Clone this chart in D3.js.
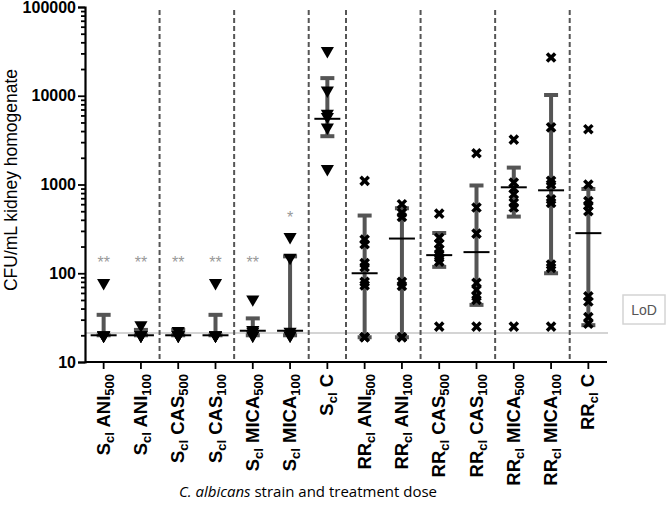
<!DOCTYPE html>
<html>
<head>
<meta charset="utf-8">
<script src="https://cdn.jsdelivr.net/npm/d3@7"></script>
<style>
  body { margin: 0; background: #fff; }
  svg { display: block; }
</style>
</head>
<body>
<div id="wrapper"></div>
<script>
const w = 666
const h = 505

// one entry per category, left to right
const strains = ["S", "S", "S", "S", "S", "S", "S", "RR", "RR", "RR", "RR", "RR", "RR", "RR"]
const drugs = ["ANI", "ANI", "CAS", "CAS", "MICA", "MICA", "C", "ANI", "ANI", "CAS", "CAS", "MICA", "MICA", "C"]
const doses = ["500", "100", "500", "100", "500", "100", "", "500", "100", "500", "100", "500", "100", ""]

// median and error bar ends (CFU/mL)
const medians = [20, 20, 20, 20, 22.5, 22.5, 5500, 100, 246, 160, 173, 930, 860, 283]
const lows = [20, 20, 20, 20, 20, 20, 3500, 19, 19, 118, 44, 435, 100, 26]
const highs = [34, 23, 23, 34, 31, 155, 15800, 447, 540, 284, 975, 1550, 10200, 890]

// individual mice
const points = [
  [78, 20, 20, 20, 20],
  [26, 20, 20, 20, 20],
  [22.5, 20, 20, 20, 20],
  [78, 20, 20, 20, 20],
  [51, 23, 22, 20, 20],
  [257, 150, 22, 20, 20],
  [32000, 11500, 6300, 5800, 4400, 1500],
  [1100, 240, 212, 130, 117, 80, 73, 19, 19],
  [600, 480, 430, 80, 72, 19, 19],
  [470, 250, 215, 185, 165, 150, 135, 25],
  [2250, 550, 280, 78, 65, 55, 50, 25],
  [3200, 1050, 900, 780, 620, 550, 25],
  [27000, 4400, 1100, 1000, 680, 620, 125, 115, 25],
  [4200, 1000, 650, 580, 500, 55, 48, 32, 27]
]

// significance marks and the value they sit at
const stars = ["**", "**", "**", "**", "**", "*", "", "", "", "", "", "", "", ""]
const starValues = [145, 145, 145, 145, 145, 470, 0, 0, 0, 0, 0, 0, 0, 0]

// group separators sit after these category indexes
const separatorsAfter = [1, 3, 5, 6, 8, 10, 12]

const lod = 21.2
const yMajor = [10, 100, 1000, 10000, 100000]

const margin = { left: 85, right: 607, top: 7, bottom: 362 }
const font = "'Liberation Sans', Arial, sans-serif"

const svg = d3.select("#wrapper").append("svg")
  .attr("width", w)
  .attr("height", h)

const x = d3.scaleBand()
  .domain(d3.range(strains.length))
  .range([margin.left, margin.right])

const y = d3.scaleLog()
  .domain([10, 100000])
  .range([margin.bottom, margin.top])

const cx = i => x(i) + x.bandwidth() / 2

// minor ticks 2..9 in each decade
const yMinor = []
yMajor.slice(0, -1).forEach(d => {
  for (let k = 2; k <= 9; k++) yMinor.push(d * k)
})

// limit of detection line
svg.append("line")
  .attr("x1", margin.left).attr("x2", margin.right + 1)
  .attr("y1", y(lod)).attr("y2", y(lod))
  .attr("stroke", "#d4d4d4")
  .attr("stroke-width", 2)

// dashed separators
svg.selectAll(".sep")
  .data(separatorsAfter)
  .enter().append("line")
  .attr("class", "sep")
  .attr("x1", d => x(d + 1)).attr("x2", d => x(d + 1))
  .attr("y1", 10).attr("y2", margin.bottom)
  .attr("stroke", "#555")
  .attr("stroke-width", 2)
  .attr("stroke-dasharray", "5,3")

// axes
const yAxis = svg.append("g")
  .attr("transform", `translate(${margin.left},0)`)
  .call(d3.axisLeft(y).tickValues(yMajor).tickFormat(d3.format("d")).tickSize(7).tickPadding(2))
svg.append("g")
  .attr("transform", `translate(${margin.left},0)`)
  .call(d3.axisLeft(y).tickValues(yMinor).tickFormat("").tickSize(4))
  .call(g => g.select(".domain").remove())

yAxis.select(".domain").attr("stroke-width", 2.2)
svg.selectAll(".tick line").attr("stroke-width", 1.8)
yAxis.selectAll("text")
  .style("font-family", font)
  .style("font-weight", "bold")
  .style("font-size", "16px")
  .attr("fill", "#000")

const xAxis = svg.append("g")
  .attr("transform", `translate(0,${margin.bottom})`)
  .call(d3.axisBottom(x).tickSize(7).tickFormat(""))
xAxis.select(".domain").attr("stroke-width", 2.2).attr("d", `M${margin.left},0H${margin.right}`)
xAxis.selectAll(".tick line").attr("stroke-width", 1.8)

// rotated category labels with subscripts
const labels = svg.selectAll(".xlab")
  .data(d3.range(strains.length))
  .enter().append("text")
  .attr("class", "xlab")
  .attr("transform", i => `translate(${cx(i) + 6},${margin.bottom + 12}) rotate(-90)`)
  .attr("text-anchor", "end")
  .style("font-family", font)
  .style("font-weight", "bold")
  .style("font-size", "18.5px")

labels.append("tspan").text(i => strains[i])
labels.append("tspan").attr("dy", 4).style("font-size", "13px").text("cl")
labels.append("tspan").attr("dy", -4).text(i => " " + drugs[i])
labels.filter(i => doses[i] !== "")
  .append("tspan").attr("dy", 4).style("font-size", "13px").text(i => doses[i])

// error bars
const bars = svg.selectAll(".bar")
  .data(d3.range(strains.length))
  .enter().append("g")
  .attr("class", "bar")
  .attr("stroke", "#555")
  .attr("stroke-width", 4)

bars.append("line")
  .attr("x1", cx).attr("x2", cx)
  .attr("y1", i => y(lows[i])).attr("y2", i => y(highs[i]))
bars.append("line")
  .attr("x1", i => cx(i) - 7).attr("x2", i => cx(i) + 7)
  .attr("y1", i => y(highs[i])).attr("y2", i => y(highs[i]))
bars.append("line")
  .attr("x1", i => cx(i) - 7).attr("x2", i => cx(i) + 7)
  .attr("y1", i => y(lows[i])).attr("y2", i => y(lows[i]))

// points: triangles for S, crosses for RR
const flat = []
points.forEach((arr, i) => arr.forEach(v => flat.push({ i: i, v: v })))

const tri = d3.symbol().type(d3.symbolTriangle).size(75)
const cross = d3.symbol().type(d3.symbolX).size(45)

svg.selectAll(".pt")
  .data(flat)
  .enter().append("path")
  .attr("class", "pt")
  .attr("transform", d => strains[d.i] === "S"
    ? `translate(${cx(d.i)},${y(d.v)}) rotate(180)`
    : `translate(${cx(d.i)},${y(d.v)})`)
  .attr("d", d => strains[d.i] === "S" ? tri() : cross())
  .attr("fill", "#000")
  .attr("stroke", d => strains[d.i] === "S" ? "none" : "#000")
  .attr("stroke-width", 3.5)

// median lines
svg.selectAll(".med")
  .data(d3.range(strains.length))
  .enter().append("line")
  .attr("class", "med")
  .attr("x1", i => cx(i) - 13).attr("x2", i => cx(i) + 13)
  .attr("y1", i => y(medians[i])).attr("y2", i => y(medians[i]))
  .attr("stroke", "#000")
  .attr("stroke-width", 2)

// stars
svg.selectAll(".star")
  .data(d3.range(strains.length).filter(i => stars[i] !== ""))
  .enter().append("text")
  .attr("class", "star")
  .attr("x", cx)
  .attr("y", i => y(starValues[i]) + 9)
  .attr("text-anchor", "middle")
  .style("font-family", font)
  .style("font-size", "16px")
  .attr("fill", "#999")
  .text(i => stars[i])

// LoD box
svg.append("rect")
  .attr("x", 623).attr("y", 295)
  .attr("width", 42).attr("height", 29)
  .attr("fill", "#fff")
  .attr("stroke", "#d4d4d4")
  .attr("stroke-width", 1.5)
svg.append("text")
  .attr("x", 644).attr("y", 315)
  .attr("text-anchor", "middle")
  .style("font-family", font)
  .style("font-size", "14px")
  .attr("fill", "#555")
  .text("LoD")

// axis titles
svg.append("text")
  .attr("transform", `translate(17,180) rotate(-90)`)
  .attr("text-anchor", "middle")
  .style("font-family", font)
  .style("font-size", "17.5px")
  .text("CFU/mL kidney homogenate")

const xt = svg.append("text")
  .attr("x", 308).attr("y", 497)
  .attr("text-anchor", "middle")
  .style("font-family", "'Open Sans', sans-serif")
  .style("font-size", "15px")
xt.append("tspan").style("font-style", "italic").text("C. albicans")
xt.append("tspan").text(" strain and treatment dose")
</script>
</body>
</html>
